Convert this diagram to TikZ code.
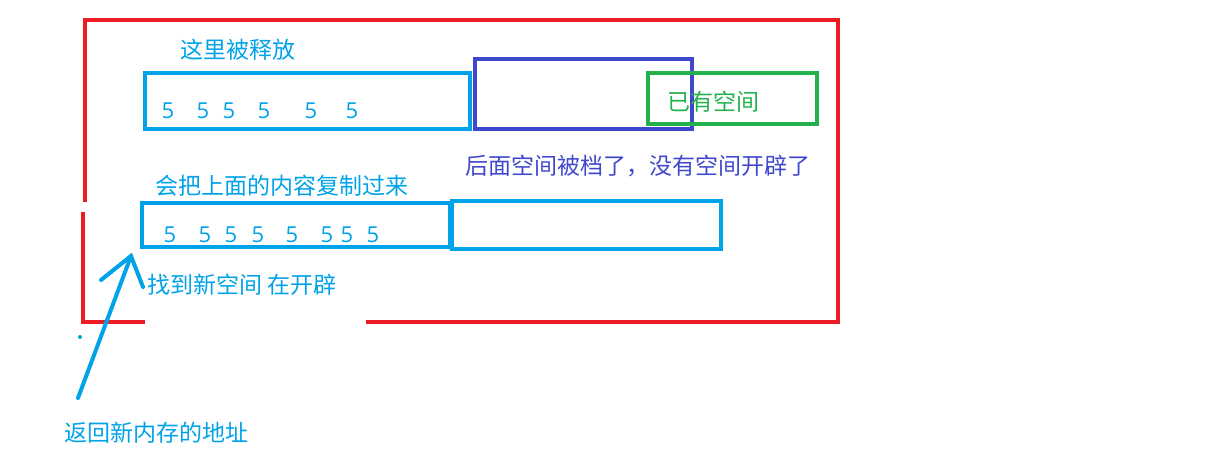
\documentclass[tikz,border=0pt]{standalone}
\usepackage{fontspec}
\newfontfamily\cjk{Noto Sans CJK SC}
\setsansfont{Open Sans}
\definecolor{pred}{HTML}{ED1C24}
\definecolor{pcyan}{HTML}{00A2E8}
\definecolor{pblue}{HTML}{3F48CC}
\definecolor{pgreen}{HTML}{22B14C}
\begin{document}
\begin{tikzpicture}[x=1pt,y=-1pt,
  lbl/.style={font=\cjk\fontsize{23}{24}\selectfont, inner sep=0pt},
  num/.style={font=\sffamily\fontsize{22}{22}\selectfont, inner sep=0pt, text=pcyan},
  line width=3.5pt]
\useasboundingbox (0,0) rectangle (1210,456);
% red frame
\draw[pred] (85,202) -- (85,20) -- (838,20) -- (838,322) -- (366,322);
\draw[pred] (145,322) -- (83,322) -- (83,212);
% boxes
\node[draw=pcyan, minimum width=325, minimum height=56, inner sep=0pt] (b1) at (307.5,101) {};
\node[draw=pblue, minimum width=217, minimum height=70, inner sep=0pt] (b2) at (583.5,94) {};
\node[draw=pgreen, minimum width=169, minimum height=51, inner sep=0pt] (b3) at (732.5,98.5) {};
\node[draw=pcyan, minimum width=308, minimum height=44, inner sep=0pt] (c1) at (296,225) {};
\node[draw=pcyan, minimum width=269, minimum height=48, inner sep=0pt] (c2) at (586.5,225) {};
% texts
\node[lbl, text=pcyan] (t1) at (238,50) {这里被释放};
\foreach \x [count=\i] in {168,203,229,264,311,352} \node[num] (n1\i) at (\x,111) {5};
\node[lbl, text=pgreen] (t2) at (713,102) {已有空间};
\node[lbl, text=pblue] (t3) at (638,166) {后面空间被档了，没有空间开辟了};
\node[lbl, text=pcyan] (t4) at (282,186) {会把上面的内容复制过来};
\foreach \x [count=\i] in {170,205,231,258,292,327,347,373} \node[num] (n2\i) at (\x,235) {5};
\node[lbl, text=pcyan] (t5) at (242,285) {找到新空间 在开辟};
\node[lbl, text=pcyan] (t6) at (156,433) {返回新内存的地址};
% arrow
\coordinate (tip) at (131,256);
\coordinate (tail) at (78,398);
\draw[pcyan, line width=4pt, line cap=round] (tail) -- (tip);
\draw[pcyan, line width=4pt, line cap=round] (101,280) -- (tip) -- (143,287);
\fill[pcyan] (80,337) circle (2pt);
\end{tikzpicture}
\end{document}
